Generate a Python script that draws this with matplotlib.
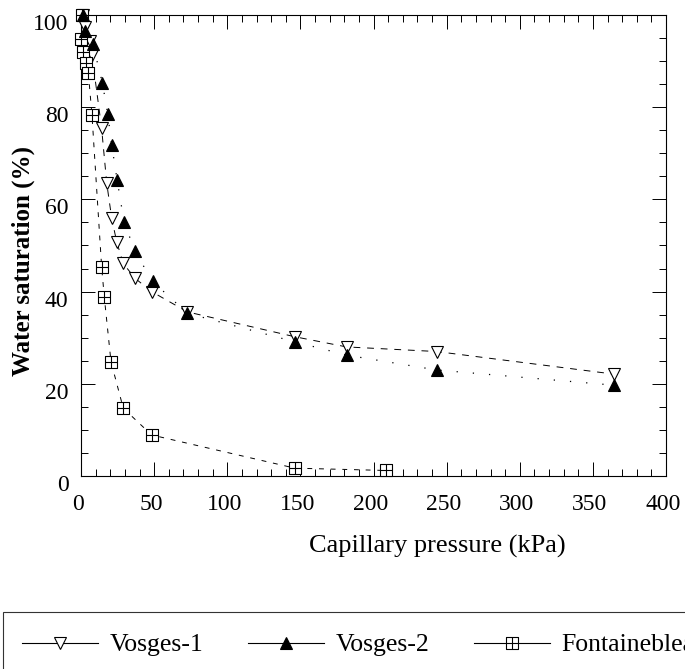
import matplotlib
matplotlib.use("Agg")
import matplotlib.pyplot as plt
from matplotlib.lines import Line2D
from matplotlib.path import Path
from matplotlib.patches import Rectangle
from matplotlib.ticker import MultipleLocator
from matplotlib.transforms import ScaledTranslation

plt.rcParams['font.family'] = ['Liberation Serif', 'DejaVu Serif']

# ----- data -----
v1_p = [1.5, 2.5, 6, 7.5, 14.1, 17.6, 21, 24.4, 28.9, 36.9, 48.3, 72.7, 146.3, 181.6, 243.2, 364.4]
v1_sw = [100, 97.5, 94.3, 91.3, 75.4, 63.5, 55.9, 50.8, 46.1, 42.9, 40.0, 35.6, 30.2, 28.0, 27.0, 22.1]

v2_p = [1.5, 3, 8, 14.6, 18.3, 21, 24.7, 29.4, 36.9, 49, 72.7, 146.3, 182, 243.2, 364.4]
v2_sw = [100, 96.5, 93.8, 85.3, 78.5, 71.8, 64.2, 55.2, 48.7, 42.2, 35.3, 29.1, 26.2, 23.0, 19.7]

fb_p = [0.5, 0.3, 1.5, 3.5, 5, 7.5, 14.1, 15.9, 20.5, 28.9, 48.3, 146.3, 208.5]
fb_sw = [100, 94.8, 92, 89.5, 87.5, 78.3, 45.4, 38.9, 24.8, 14.7, 8.9, 1.7, 1.2]

labels = ["Vosges-1", "Vosges-2", "Fontainebleau"]

# square with a cross inside
sq_cross = Path(
    [(-1, -1), (1, -1), (1, 1), (-1, 1), (-1, -1), (0, -1), (0, 1), (-1, 0), (1, 0)],
    [Path.MOVETO, Path.LINETO, Path.LINETO, Path.LINETO, Path.CLOSEPOLY,
     Path.MOVETO, Path.LINETO, Path.MOVETO, Path.LINETO])

fig = plt.figure(figsize=(6.85, 6.69), dpi=100)
ax = fig.add_axes([81 / 685, 1 - 476 / 669, 585 / 685, 461 / 669])

style_v1 = dict(marker='v', ms=9, mfc='white', mec='black', mew=0.8)
style_v2 = dict(marker='^', ms=9, mfc='black', mec='black', mew=0.8)
style_fb = dict(marker=sq_cross, ms=9, mfc='white', mec='black', mew=0.8)

ax.plot(v1_p, v1_sw, color='black', lw=0.7, dashes=(7, 7), clip_on=False, zorder=3, **style_v1)
ax.plot(v2_p, v2_sw, color='black', lw=0.9, dashes=(1, 12), clip_on=False, zorder=4, **style_v2)
ax.plot(fb_p, fb_sw, color='black', lw=0.7, dashes=(5, 7), clip_on=False, zorder=3, **style_fb)

ax.set_xlim(0, 400)
ax.set_ylim(0, 100)
ax.xaxis.set_major_locator(MultipleLocator(50))
ax.xaxis.set_minor_locator(MultipleLocator(10))
ax.yaxis.set_major_locator(MultipleLocator(20))
ax.yaxis.set_minor_locator(MultipleLocator(5))
ax.tick_params(which='both', direction='in', top=True, right=True, width=0.7, labelsize=17)
ax.tick_params(which='major', length=10)
ax.tick_params(which='minor', length=5)
ax.tick_params(axis='x', pad=13)
ax.tick_params(axis='y', pad=9)
for s in ax.spines.values():
    s.set_linewidth(0.8)

# tick labels sit a little off their ticks in the original
for lab in ax.get_yticklabels():
    lab.set_transform(lab.get_transform() + ScaledTranslation(0, -5 / 72, fig.dpi_scale_trans))
for lab in ax.get_xticklabels():
    lab.set_transform(lab.get_transform() + ScaledTranslation(-2.2 / 72, 0, fig.dpi_scale_trans))

ax.set_xlabel("Capillary pressure (kPa)", fontsize=19)
ax.xaxis.set_label_coords(0.609, -0.128)
fig.text(23 / 685, 1 - 261 / 669, "Water saturation (%)", rotation=90,
         ha='center', va='center', fontsize=18, fontweight='bold')

# legend below, box runs off the page like the original
handles = [Line2D([0], [0], color='black', lw=0.8, **style_v1),
           Line2D([0], [0], color='black', lw=0.8, **style_v2),
           Line2D([0], [0], color='black', lw=0.8, **style_fb)]
fig.legend(handles, labels, loc='center left', bbox_to_anchor=(22 / 685, 1 - 645 / 669),
           ncol=3, frameon=False, fontsize=18.5, handlelength=2.95, handletextpad=0.45,
           columnspacing=1.75, borderpad=0, borderaxespad=0, numpoints=1)
fig.add_artist(Rectangle((3 / 685, -0.1), 2, 1 - 612 / 669 + 0.1, transform=fig.transFigure,
                         fill=False, lw=0.8, edgecolor='#333333'))

fig.savefig("out.png", dpi=100)
